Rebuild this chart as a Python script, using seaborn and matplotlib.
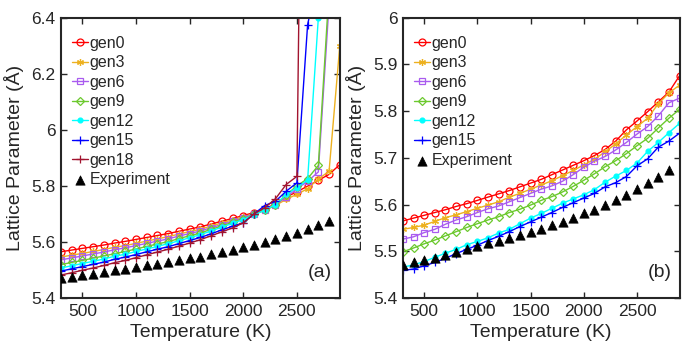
import matplotlib
matplotlib.use("Agg")
import matplotlib.pyplot as plt
import seaborn as sns

# temperatures (K)
temps = [300, 400, 500, 600, 700, 800, 900, 1000, 1100, 1200, 1300, 1400, 1500, 1600,
         1700, 1800, 1900, 2000, 2100, 2200, 2300, 2400, 2500, 2600, 2700, 2800, 2900]
exp_temps = temps[:-1]

# experiment (same in both panels)
experiment = [5.470, 5.476, 5.481, 5.486, 5.492, 5.499, 5.505, 5.511, 5.517, 5.523, 5.529,
              5.535, 5.542, 5.548, 5.556, 5.563, 5.571, 5.581, 5.589, 5.599, 5.609, 5.621,
              5.633, 5.646, 5.660, 5.675]

# gen0 is shared by both panels
gen0 = [5.565, 5.571, 5.577, 5.583, 5.589, 5.596, 5.602, 5.609, 5.616, 5.623, 5.630, 5.638,
        5.646, 5.654, 5.664, 5.674, 5.684, 5.694, 5.705, 5.718, 5.736, 5.760, 5.779, 5.799,
        5.820, 5.841, 5.876]

# panel (a)
a_gen3 = [5.546, 5.553, 5.559, 5.566, 5.573, 5.581, 5.587, 5.595, 5.603, 5.611, 5.619, 5.628,
          5.637, 5.645, 5.657, 5.668, 5.679, 5.690, 5.700, 5.714, 5.730, 5.752, 5.770, 5.790,
          5.825, 5.852, 6.300]
a_gen6 = [5.536, 5.543, 5.550, 5.557, 5.564, 5.572, 5.579, 5.587, 5.595, 5.603, 5.611, 5.621,
          5.630, 5.639, 5.651, 5.662, 5.674, 5.686, 5.700, 5.715, 5.732, 5.760, 5.790, 5.816,
          5.850, 6.450, 6.500]
a_gen9 = [5.519, 5.527, 5.534, 5.542, 5.550, 5.558, 5.566, 5.575, 5.584, 5.593, 5.601, 5.612,
          5.622, 5.632, 5.645, 5.657, 5.670, 5.683, 5.698, 5.713, 5.731, 5.768, 5.800, 5.826,
          5.873, 6.500, 6.520]
a_gen12 = [5.507, 5.515, 5.523, 5.531, 5.539, 5.549, 5.556, 5.566, 5.575, 5.584, 5.594, 5.604,
           5.615, 5.626, 5.639, 5.653, 5.666, 5.680, 5.697, 5.713, 5.733, 5.770, 5.793, 5.822,
           6.400, 6.480, 6.500]
a_gen15 = [5.496, 5.504, 5.512, 5.520, 5.528, 5.538, 5.546, 5.555, 5.565, 5.574, 5.583, 5.594,
           5.605, 5.616, 5.629, 5.643, 5.656, 5.668, 5.700, 5.730, 5.745, 5.781, 5.811, 6.376,
           6.550, 6.600, 6.600]
a_gen18 = [5.482, 5.490, 5.499, 5.507, 5.516, 5.526, 5.534, 5.544, 5.554, 5.564, 5.574, 5.585,
           5.596, 5.608, 5.622, 5.636, 5.650, 5.668, 5.700, 5.722, 5.754, 5.805, 5.834, 9.000,
           9.000, 9.000, 9.000]

# panel (b)
b_gen3 = [5.547, 5.551, 5.556, 5.564, 5.572, 5.578, 5.585, 5.592, 5.599, 5.606, 5.616, 5.624,
          5.633, 5.642, 5.651, 5.662, 5.673, 5.685, 5.697, 5.713, 5.730, 5.749, 5.767, 5.785,
          5.816, 5.839, 5.856]
b_gen6 = [5.526, 5.531, 5.540, 5.547, 5.558, 5.567, 5.574, 5.583, 5.591, 5.597, 5.606, 5.615,
          5.624, 5.633, 5.640, 5.650, 5.664, 5.680, 5.693, 5.703, 5.717, 5.733, 5.751, 5.767,
          5.790, 5.818, 5.828]
b_gen9 = [5.499, 5.507, 5.516, 5.524, 5.533, 5.542, 5.551, 5.559, 5.567, 5.574, 5.583, 5.590,
          5.599, 5.609, 5.617, 5.627, 5.639, 5.652, 5.666, 5.681, 5.694, 5.709, 5.726, 5.742,
          5.764, 5.785, 5.804]
b_gen12 = [5.466, 5.471, 5.478, 5.487, 5.496, 5.504, 5.514, 5.521, 5.529, 5.539, 5.547, 5.559,
           5.571, 5.581, 5.592, 5.603, 5.612, 5.621, 5.632, 5.648, 5.661, 5.673, 5.689, 5.714,
           5.733, 5.754, 5.774]
b_gen15 = [5.459, 5.462, 5.469, 5.476, 5.485, 5.495, 5.504, 5.513, 5.523, 5.532, 5.542, 5.553,
           5.563, 5.573, 5.583, 5.594, 5.604, 5.614, 5.624, 5.638, 5.647, 5.660, 5.683, 5.698,
           5.723, 5.736, 5.753]

styles = {
    "gen0": dict(color="#FF0000", marker="o", mfc="none", ms=5),
    "gen3": dict(color="#EDB120", marker=(6, 2, 0), mfc="#EDB120", ms=5),
    "gen6": dict(color="#A95BEF", marker="s", mfc="none", ms=4.5),
    "gen9": dict(color="#6CC92E", marker="D", mfc="none", ms=4.5),
    "gen12": dict(color="#00FFFF", marker="o", mfc="#00FFFF", ms=3.5),
    "gen15": dict(color="#0000FF", marker="+", mfc="none", ms=6),
    "gen18": dict(color="#A2142F", marker="+", mfc="none", ms=6),
}

panel_a = {"gen0": gen0, "gen3": a_gen3, "gen6": a_gen6, "gen9": a_gen9,
           "gen12": a_gen12, "gen15": a_gen15, "gen18": a_gen18}
panel_b = {"gen0": gen0, "gen3": b_gen3, "gen6": b_gen6, "gen9": b_gen9,
           "gen12": b_gen12, "gen15": b_gen15}

sns.set_style("white")
plt.rcParams["font.family"] = ["Liberation Sans", "DejaVu Sans"]
plt.rcParams["axes.edgecolor"] = "#262626"

fig = plt.figure(figsize=(6.97, 3.56), dpi=100)
ax_a = fig.add_axes([0.0875, 0.163, 0.400, 0.787])
ax_b = fig.add_axes([0.578, 0.163, 0.397, 0.787])


def draw_panel(ax, series, ylim, yticks, yticklabels, tag):
    for name, vals in series.items():
        st = styles[name]
        sns.lineplot(x=temps, y=vals, ax=ax, color=st["color"], marker=st["marker"],
                     markerfacecolor=st["mfc"], markeredgecolor=st["color"],
                     markersize=st["ms"], markeredgewidth=0.9, linewidth=1.0,
                     label=name, sort=False, estimator=None)
    sns.scatterplot(x=exp_temps, y=experiment, ax=ax, marker="^", color="black",
                    s=45, edgecolor="black", linewidth=0.5, label="Experiment", zorder=5)
    ax.set_xlim(300, 2900)
    ax.set_ylim(*ylim)
    ax.set_xticks([500, 1000, 1500, 2000, 2500])
    ax.set_yticks(yticks)
    ax.set_yticklabels(yticklabels)
    ax.tick_params(direction="in", length=4, width=1.0, top=True, right=True,
                   bottom=True, left=True,
                   labelsize=12.5, colors="#262626", pad=4)
    for sp in ax.spines.values():
        sp.set_linewidth(1.5)
    ax.set_xlabel("Temperature (K)", fontsize=14, color="#262626", labelpad=4)
    ax.set_ylabel("Lattice Parameter (Å)", fontsize=14, color="#262626", labelpad=5)
    ax.text(0.97, 0.06, tag, transform=ax.transAxes, ha="right", va="bottom",
            fontsize=14, color="#262626")
    ax.legend(loc="upper left", frameon=False, fontsize=11.5, handlelength=1.0,
              handletextpad=0.1, labelspacing=0.28, borderaxespad=0.3,
              bbox_to_anchor=(0.0, 0.975))


draw_panel(ax_a, panel_a, (5.4, 6.4), [5.4, 5.6, 5.8, 6.0, 6.2, 6.4],
           ["5.4", "5.6", "5.8", "6", "6.2", "6.4"], "(a)")
draw_panel(ax_b, panel_b, (5.4, 6.0), [5.4, 5.5, 5.6, 5.7, 5.8, 5.9, 6.0],
           ["5.4", "5.5", "5.6", "5.7", "5.8", "5.9", "6"], "(b)")

fig.savefig("out.png", dpi=100)
